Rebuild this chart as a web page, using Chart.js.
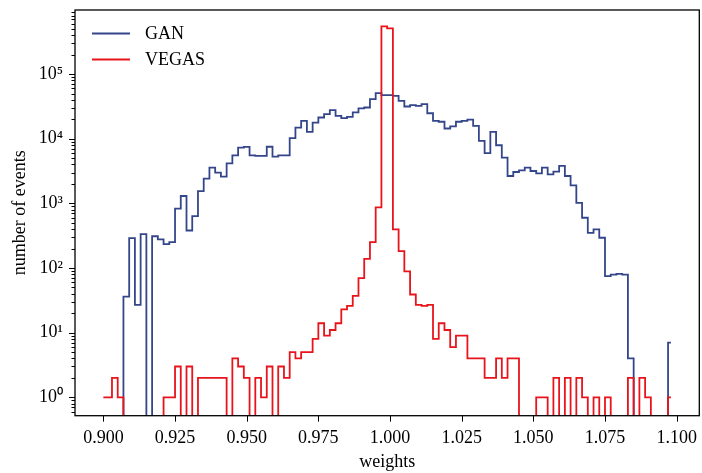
<!DOCTYPE html>
<html>
<head>
<meta charset="utf-8">
<script src="https://cdn.jsdelivr.net/npm/chart.js@4.4.1/dist/chart.umd.min.js"></script>
<style>
  html, body { margin: 0; padding: 0; background: #fff; }
</style>
</head>
<body>
<canvas id="weightsChart" width="702" height="473"></canvas>
<script>
// === Histogram of event weights (log y, step lines) ===
const binStart = 0.9;
const binWidth = 0.002;

const ganCounts = [
  0, 0, 0, 0, 36, 290, 27, 335, 0, 310,
  277, 235, 251, 830, 1300, 381, 637, 1550, 2410, 3570,
  2990, 2590, 4170, 5540, 7290, 7470, 5540, 5420, 5420, 7520,
  5300, 5540, 5540, 10200, 14900, 18900, 12800, 17800, 21300, 24000,
  27700, 22600, 20800, 21800, 25500, 29400, 30400, 40900, 50700, 47200,
  47200, 46000, 38600, 31500, 33100, 32300, 34300, 24800, 18900, 18300,
  14400, 15500, 18300, 18900, 19800, 15800, 9250, 6000, 12800, 7930,
  5110, 2650, 3060, 3250, 3570, 3170, 2920, 3570, 2820, 3100,
  3800, 2650, 1900, 1020, 600, 351, 395, 294, 75, 79,
  81, 79, 4, 0, 0, 0, 0, 0, 0, 7
];

const vegasCounts = [
  1, 1, 2, 1, 0, 0, 0, 0, 0, 0,
  0, 1, 1, 3, 0, 3, 0, 2, 2, 2,
  2, 2, 0, 4, 3, 2, 0, 2, 1, 3,
  0, 3, 2, 5, 4, 5, 5, 8, 14, 9,
  11, 14, 23, 26, 37, 70, 139, 251, 870, 548000,
  511000, 395, 182, 89, 39, 27, 26, 27, 8, 14,
  11, 6, 9, 9, 4, 4, 4, 2, 2, 4,
  2, 4, 4, 0, 0, 0, 1, 1, 0, 2,
  0, 2, 0, 2, 1, 0, 1, 0, 1, 0,
  0, 0, 2, 0, 2, 1, 0, 0, 0, 1
];

const seriesLabels = ['GAN', 'VEGAS'];
const seriesColors = ['#34468a', '#e8141c'];

const xTickValues = [0.9, 0.925, 0.95, 0.975, 1.0, 1.025, 1.05, 1.075, 1.1];
const xTickLabels = ['0.900', '0.925', '0.950', '0.975', '1.000', '1.025', '1.050', '1.075', '1.100'];
const yMajorTicks = [1, 10, 100, 1000, 10000, 100000];
const yTickLabels = ['10\u2070', '10\u00b9', '10\u00b2', '10\u00b3', '10\u2074', '10\u2075'];

const xMin = 0.8901, xMax = 1.1079;
const yMin = 0.52, yMax = 9.8e5;

// bin positions
const binX = ganCounts.map((_, i) => +(binStart + i * binWidth).toFixed(3));

// empty bins fall off the bottom like matplotlib's clipped log
const toPoints = counts => counts.map((c, i) => ({ x: binX[i], y: c > 0 ? c : 1e-3 }));

// minor ticks 2..9 per decade
const yAllTicks = [];
[0.1].concat(yMajorTicks).forEach(d => {
  for (let m = 1; m <= 9; m++) {
    const v = +(d * m).toPrecision(3);
    if (v >= yMin && v <= yMax) yAllTicks.push(v);
  }
});
const isMajor = v => yMajorTicks.indexOf(v) >= 0;

const FONT = "'Liberation Serif', 'Times New Roman', serif";
Chart.defaults.font.family = FONT;
Chart.defaults.font.size = 18;
Chart.defaults.color = '#000';

const decorPlugin = {
  id: 'decor',
  afterDraw(chart) {
    const { ctx, chartArea: a, scales: { x, y } } = chart;
    ctx.save();
    ctx.strokeStyle = '#000';
    ctx.lineWidth = 1;
    const seg = (x1, y1, x2, y2) => { ctx.beginPath(); ctx.moveTo(x1, y1); ctx.lineTo(x2, y2); ctx.stroke(); };

    x.ticks.forEach(t => {
      const px = Math.round(x.getPixelForValue(t.value)) + 0.5;
      seg(px, a.bottom, px, a.bottom + 6);
    });
    y.ticks.forEach(t => {
      const py = Math.round(y.getPixelForValue(t.value)) + 0.5;
      seg(a.left - (isMajor(t.value) ? 6 : 3.5), py, a.left, py);
    });

    ctx.lineWidth = 1.3;
    ctx.strokeRect(a.left, a.top, a.right - a.left, a.bottom - a.top);

    // legend
    ctx.font = '18px ' + FONT;
    ctx.textBaseline = 'middle';
    ctx.textAlign = 'left';
    chart.data.datasets.forEach((ds, i) => {
      const ly = 33.5 + i * 26;
      ctx.strokeStyle = ds.borderColor;
      ctx.lineWidth = 1.8;
      seg(92, ly, 130, ly);
      ctx.fillStyle = '#000';
      ctx.fillText(ds.label, 145, ly + 1);
    });

    // axis titles
    ctx.textAlign = 'center';
    ctx.fillText('weights', (a.left + a.right) / 2, 462);
    ctx.translate(20, (a.top + a.bottom) / 2);
    ctx.rotate(-Math.PI / 2);
    ctx.fillText('number of events', 0, 0);
    ctx.restore();
  }
};

const ctxWeights = document.getElementById('weightsChart').getContext('2d');
new Chart(ctxWeights, {
  type: 'line',
  data: {
    datasets: [
      {
        label: seriesLabels[0],
        data: toPoints(ganCounts),
        borderColor: seriesColors[0],
        borderWidth: 1.8,
        stepped: 'middle',
        pointRadius: 0,
        fill: false,
        order: 1
      },
      {
        label: seriesLabels[1],
        data: toPoints(vegasCounts),
        borderColor: seriesColors[1],
        borderWidth: 1.8,
        stepped: 'middle',
        pointRadius: 0,
        fill: false,
        order: 0
      }
    ]
  },
  options: {
    responsive: false,
    animation: false,
    devicePixelRatio: 1,
    layout: { padding: { left: 0, top: 10, right: 2.7, bottom: 0 } },
    plugins: {
      legend: { display: false },
      tooltip: { enabled: false }
    },
    scales: {
      x: {
        type: 'linear',
        bounds: 'data',
        min: xMin,
        max: xMax,
        afterFit: s => { s.height = 57.3; s.paddingLeft = 0; s.paddingRight = 0; },
        afterBuildTicks: s => { s.ticks = xTickValues.map(v => ({ value: v })); },
        ticks: {
          autoSkip: false,
          maxRotation: 0,
          padding: 12,
          callback: (v, i) => xTickLabels[i]
        },
        grid: { display: false, drawTicks: false },
        border: { display: false }
      },
      y: {
        type: 'logarithmic',
        bounds: 'data',
        min: yMin,
        max: yMax,
        afterFit: s => { s.width = 75; s.paddingTop = 0; s.paddingBottom = 0; },
        afterBuildTicks: s => { s.ticks = yAllTicks.map(v => ({ value: v })); },
        ticks: {
          autoSkip: false,
          padding: 12,
          callback: v => {
            const i = yMajorTicks.indexOf(v);
            return i >= 0 ? yTickLabels[i] : '';
          }
        },
        grid: { display: false, drawTicks: false },
        border: { display: false }
      }
    }
  },
  plugins: [decorPlugin]
});
</script>
</body>
</html>
